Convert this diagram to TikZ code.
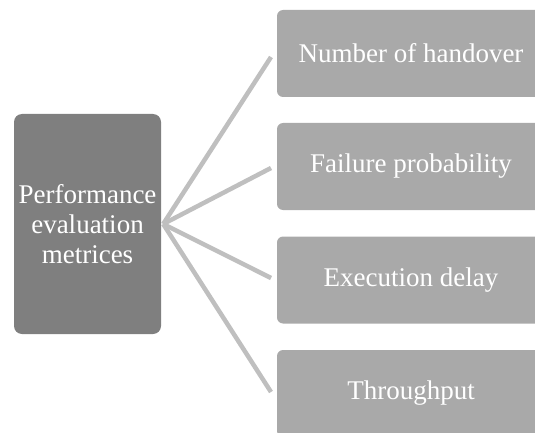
\documentclass[tikz,border=0pt]{standalone}
\usepackage{fontspec}
\setmainfont{Liberation Serif}
\usepackage{xcolor}

\definecolor{hubgray}{HTML}{7F7F7F}
\definecolor{boxgray}{HTML}{A9A9A9}
\definecolor{linkgray}{HTML}{BFBFBF}

\tikzset{
  metricbox/.style={fill=boxgray, rounded corners=6pt, minimum width=268pt, minimum height=87pt,
                    inner sep=0pt, text=white, font=\fontsize{27}{30}\selectfont},
  hubbox/.style={fill=hubgray, rounded corners=8pt, minimum width=147pt, minimum height=220pt,
                 inner sep=0pt, text=white, align=center, font=\fontsize{27}{30}\selectfont},
  link/.style={draw=linkgray, line width=4.5pt}
}

\begin{document}
\begin{tikzpicture}[x=1pt,y=1pt,yscale=-1,xscale=1]
\useasboundingbox (0,0) rectangle (535,433);
\clip (0,0) rectangle (535,433);
% left block
\node [hubbox] (perf) at (87.5,224) {Performance\\evaluation\\metrices};
% metric blocks
\node [metricbox] (m1) at (411,53.5) {Number of handover};
\node [metricbox] (m2) at (411,166.5) {Failure probability};
\node [metricbox] (m3) at (411,280) {Execution delay};
\node [metricbox] (m4) at (411,393.5) {Throughput};
% line ends just short of the blocks
\coordinate (e1) at (271,57);
\coordinate (e2) at (271,168);
\coordinate (e3) at (271,278);
\coordinate (e4) at (271,392);
\foreach \i in {1,...,4}
  \draw [link] ([xshift=2pt]perf.east) -- (e\i);
\end{tikzpicture}
\end{document}
